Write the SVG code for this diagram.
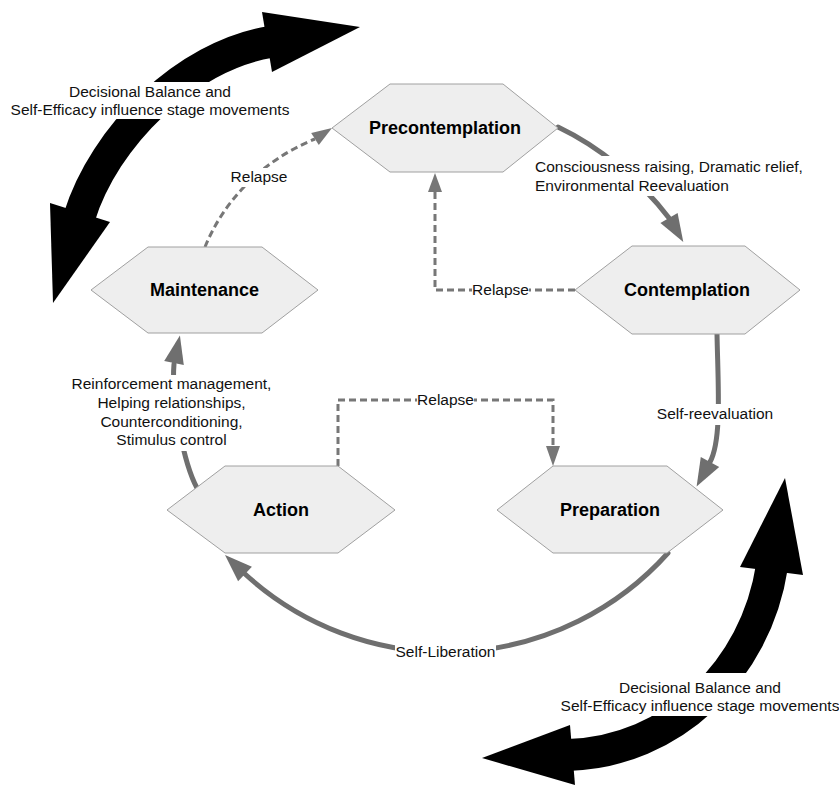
<svg xmlns="http://www.w3.org/2000/svg" width="839" height="785" viewBox="0 0 839 785">
  <style>
    .hex { fill: #eeeeee; stroke: #a0a0a0; stroke-width: 1; }
    .node { font-family: "Liberation Sans", Arial, sans-serif; font-weight: bold; font-size: 18px; fill: #000; text-anchor: middle; }
    .lbl { font-family: "Liberation Sans", Arial, sans-serif; font-size: 15.5px; fill: #111; text-anchor: middle; }
    .lbl-start { font-family: "Liberation Sans", Arial, sans-serif; font-size: 15.5px; fill: #111; text-anchor: start; }
    .solid { fill: none; stroke: #6f6f6f; stroke-width: 5; stroke-linecap: round; }
    .dash { fill: none; stroke: #777777; stroke-width: 3; stroke-dasharray: 7 4; }
    .head { fill: #6f6f6f; }
    .dhead { fill: #777777; }
    .big { fill: none; stroke: #000; stroke-width: 32; }
    .bighead { fill: #000; }
    .bg { fill: #ffffff; }
  </style>

  <g id="influence-arrows">
    <g id="influence-top-left">
      <path class="big" d="M79,218 C104,136 186,56 270,42"/>
      <polygon class="bighead" points="262,12 360,27 272,72"/>
      <polygon class="bighead" points="50,203 53,303 110,222"/>
      <rect class="bg" x="9" y="82" width="282" height="37"/>
      <text class="lbl" x="150" y="97">Decisional Balance and</text>
      <text class="lbl" x="150" y="115">Self-Efficacy influence stage movements</text>
    </g>
    <g id="influence-bottom-right">
      <path class="big" d="M772,566 C756,671 672,752 568,755"/>
      <polygon class="bighead" points="740,567 785,478 803,575"/>
      <polygon class="bighead" points="570,725 482,758 575,785"/>
      <rect class="bg" x="559" y="673" width="280" height="43"/>
      <text class="lbl" x="700" y="692.5">Decisional Balance and</text>
      <text class="lbl" x="700" y="710.5">Self-Efficacy influence stage movements</text>
    </g>
  </g>

  <g id="connectors">
    <!-- Precontemplation -> Contemplation -->
    <path class="solid" d="M558,127 C600,147 640,180 669,218"/>
    <polygon class="head" points="677.6,212.9 683.3,242.1 660.4,223.1"/>
    <rect class="bg" x="533" y="156" width="270" height="40"/>
    <text class="lbl-start" x="535" y="172">Consciousness raising, Dramatic relief,</text>
    <text class="lbl-start" x="535" y="190.5">Environmental Reevaluation</text>

    <!-- Contemplation -> Preparation -->
    <path class="solid" d="M717,334 C718,385 722,440 710,462"/>
    <polygon class="head" points="719.2,467 696.6,486.6 700.8,457"/>
    <rect class="bg" x="656" y="404" width="118" height="21"/>
    <text class="lbl" x="715" y="419.3">Self-reevaluation</text>

    <!-- Preparation -> Action -->
    <path class="solid" d="M668,553 A298,298 0 0 1 245,574"/>
    <polygon class="head" points="251.9,566.8 225,555 238.1,581.2"/>
    <rect class="bg" x="395" y="642" width="101" height="20"/>
    <text class="lbl" x="445.5" y="657">Self-Liberation</text>

    <!-- Action -> Maintenance -->
    <path class="solid" d="M197,488 C184,464 171,400 174,364"/>
    <polygon class="head" points="183.8,365.1 179.9,335.6 164.2,360.9"/>
    <rect class="bg" x="72" y="375" width="200" height="76"/>
    <text class="lbl" x="171.5" y="389.3">Reinforcement management,</text>
    <text class="lbl" x="171.5" y="408">Helping relationships,</text>
    <text class="lbl" x="171.5" y="426.7">Counterconditioning,</text>
    <text class="lbl" x="171.5" y="445.3">Stimulus control</text>

    <!-- Maintenance -> Precontemplation (Relapse) -->
    <path class="dash" d="M205,247 C222,205 258,162 315,139"/>
    <polygon class="dhead" points="318.8,144.9 332,128 311.2,133.1"/>
    <rect class="bg" x="230" y="168" width="58" height="19"/>
    <text class="lbl" x="259" y="182">Relapse</text>

    <!-- Contemplation -> Precontemplation (Relapse) -->
    <path class="dash" d="M575,290 H435 V192"/>
    <polygon class="dhead" points="428,192 435,173 442,192"/>
    <rect class="bg" x="472" y="281" width="57" height="18"/>
    <text class="lbl" x="500.5" y="295">Relapse</text>

    <!-- Action -> Preparation (Relapse) -->
    <path class="dash" d="M338,466 V400 H553 V446"/>
    <polygon class="dhead" points="546,446 553,466 560,446"/>
    <rect class="bg" x="417" y="391" width="57" height="18"/>
    <text class="lbl" x="445.5" y="404.5">Relapse</text>
  </g>

  <g id="precontemplation">
    <polygon class="hex" points="332,128 390,84 503,84 558,128 503,172 390,172"/>
    <text class="node" x="445" y="134">Precontemplation</text>
  </g>
  <g id="contemplation">
    <polygon class="hex" points="575,290 632,246 745,246 800,290 745,334 632,334"/>
    <text class="node" x="687" y="296">Contemplation</text>
  </g>
  <g id="preparation">
    <polygon class="hex" points="497,510 553,466 667,466 723,510 667,553 553,553"/>
    <text class="node" x="610" y="516">Preparation</text>
  </g>
  <g id="action">
    <polygon class="hex" points="167,510 225,466 338,466 395,510 338,553 225,553"/>
    <text class="node" x="281" y="516">Action</text>
  </g>
  <g id="maintenance">
    <polygon class="hex" points="91,290 148,247 262,247 318,290 262,333 148,333"/>
    <text class="node" x="204.5" y="296">Maintenance</text>
  </g>
</svg>
